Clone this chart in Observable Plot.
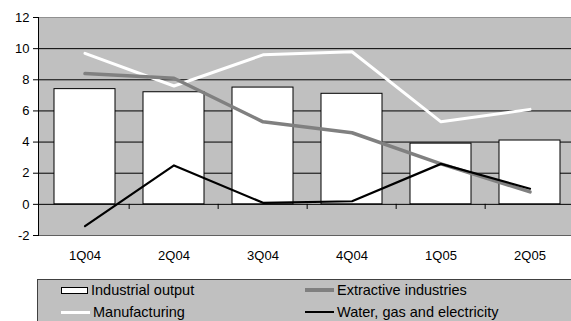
<!DOCTYPE html>
<html>
<head>
<meta charset="utf-8">
<script src="https://cdn.jsdelivr.net/npm/d3@7"></script>
<script src="https://cdn.jsdelivr.net/npm/@observablehq/plot@0.6"></script>
<style>
  html, body { margin: 0; padding: 0; background: #fff; }
  #wrap { position: relative; width: 571px; height: 321px; overflow: hidden; font-family: "Liberation Sans", Arial, sans-serif; }
  #legend { position: absolute; left: 37px; top: 279px; width: 560px; height: 60px; background: #c0c0c0; border: 1px solid #404040; box-sizing: border-box; font-size: 14.5px; color: #000; }
  .item { position: absolute; display: flex; align-items: center; white-space: nowrap; }
  .sw { display: inline-block; margin-right: 3px; box-sizing: border-box; }
</style>
</head>
<body>
<div id="wrap">
  <div id="chart"></div>
  <div id="legend"></div>
</div>
<script>
const quarters = ["1Q04", "2Q04", "3Q04", "4Q04", "1Q05", "2Q05"];
const industrialOutput = [7.4, 7.2, 7.5, 7.1, 3.9, 4.1];
const manufacturing = [9.7, 7.6, 9.6, 9.8, 5.3, 6.1];
const extractive = [8.4, 8.1, 5.3, 4.6, 2.6, 0.8];
const waterGasElectricity = [-1.4, 2.5, 0.1, 0.2, 2.6, 1.0];
const yTicks = [-2, 0, 2, 4, 6, 8, 10, 12];
const gridValues = [2, 4, 6, 8, 10];

const bars = quarters.map((q, i) => ({q, v: industrialOutput[i]}));
const lineData = (arr) => quarters.map((q, i) => ({q, v: arr[i]}));

const W = 571, H = 279;
const mLeft = 38, mRight = -5, mTop = 17, mBottom = H - 235;
const step = (W - mLeft - mRight) / quarters.length;

const chart = Plot.plot({
  width: W,
  height: H,
  marginLeft: mLeft,
  marginRight: mRight,
  marginTop: mTop,
  marginBottom: mBottom,
  style: {fontFamily: "'Liberation Sans', Arial, sans-serif", fontSize: "13px", color: "#000", background: "transparent", overflow: "visible"},
  x: {domain: quarters, paddingInner: 0.32, paddingOuter: 0.16, label: null},
  y: {domain: [-2, 12], label: null},
  marks: [
    Plot.frame({fill: "#c0c0c0", stroke: null}),
    Plot.ruleY(gridValues, {stroke: "#000", strokeWidth: 1}),
    Plot.ruleY([12], {stroke: "#909090", strokeWidth: 1}),
    Plot.ruleY([-2], {stroke: "#606060", strokeWidth: 1}),
    Plot.barY(bars, {x: "q", y: "v", fill: "#fff", stroke: "#000", strokeWidth: 1}),
    Plot.ruleY([0], {stroke: "#000", strokeWidth: 1}),
    Plot.ruleX(quarters.slice(1), {x: d => d, y1: 0, y2: -0.33, dx: -step / 2, stroke: "#000"}),
    Plot.line(lineData(manufacturing), {x: "q", y: "v", stroke: "#fff", strokeWidth: 3}),
    Plot.line(lineData(extractive), {x: "q", y: "v", stroke: "#808080", strokeWidth: 3.5}),
    Plot.line(lineData(waterGasElectricity), {x: "q", y: "v", stroke: "#000", strokeWidth: 2.2}),
    Plot.frame({anchor: "left", stroke: "#000"}),
    Plot.axisY({ticks: yTicks, tickSize: 5, tickPadding: 4, tickFormat: d => String(d), fontSize: 13, stroke: "#000"}),
    Plot.axisX({tickSize: 0, tickPadding: 15, fontSize: 13})
  ]
});
document.getElementById("chart").appendChild(chart);

const legendItems = [
  {label: "Industrial output", type: "box", x: 23, y: 10},
  {label: "Extractive industries", type: "line", color: "#808080", w: 3.5, x: 267, y: 10},
  {label: "Manufacturing", type: "line", color: "#fff", w: 3, x: 23, y: 32},
  {label: "Water, gas and electricity", type: "line", color: "#000", w: 2, x: 267, y: 32}
];
const legend = document.getElementById("legend");
legendItems.forEach(it => {
  const d = document.createElement("div");
  d.className = "item";
  d.style.left = it.x + "px";
  d.style.top = (it.y - 9) + "px";
  d.style.height = "18px";
  const sw = document.createElement("span");
  sw.className = "sw";
  if (it.type === "box") {
    sw.style.width = "27px"; sw.style.height = "7px";
    sw.style.background = "#fff"; sw.style.border = "1px solid #000";
  } else {
    sw.style.width = "29px"; sw.style.height = it.w + "px";
    sw.style.background = it.color;
  }
  d.appendChild(sw);
  const t = document.createElement("span");
  t.textContent = it.label;
  d.appendChild(t);
  legend.appendChild(d);
});
</script>
</body>
</html>
